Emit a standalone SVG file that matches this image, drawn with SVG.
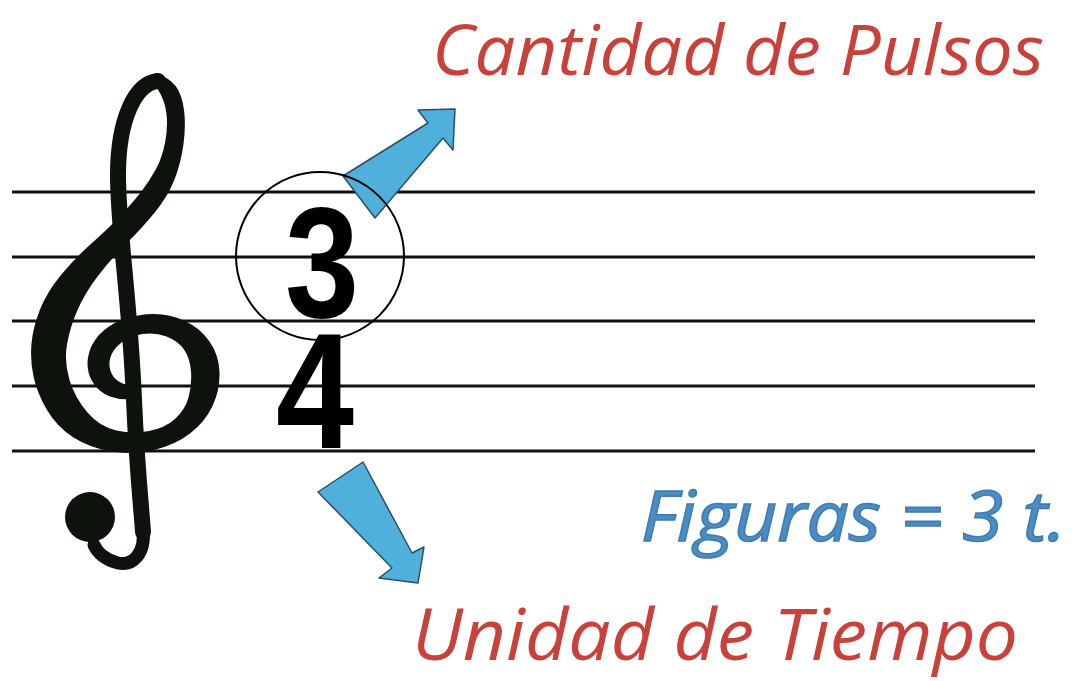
<svg xmlns="http://www.w3.org/2000/svg" width="1074" height="681" viewBox="0 0 1074 681">
<style>
.staff{stroke:#111;stroke-width:3;fill:none}
.clef{fill:none;stroke:#0d120c;stroke-linecap:round;stroke-linejoin:round}
.clef-fill{fill:#0d120c}
.arrow{fill:#4fb0dc;stroke:#2c4f60;stroke-width:1.5;stroke-linejoin:round}
.digit{font-family:"Liberation Sans",Arial,sans-serif;font-weight:bold;fill:#000;text-anchor:middle}
.red{font-family:"Open Sans","DejaVu Sans",sans-serif;font-style:italic;fill:#c8413b}
.blue{font-family:"Open Sans","DejaVu Sans",sans-serif;font-style:italic;fill:#4a8cc4;stroke:#3f7db3;stroke-width:1.6}
</style>
<rect width="1074" height="681" fill="#fff"/>
<g id="staff">
<line class="staff" x1="12" y1="192" x2="1035" y2="192"/>
<line class="staff" x1="12" y1="257" x2="1035" y2="257"/>
<line class="staff" x1="12" y1="321" x2="1035" y2="321"/>
<line class="staff" x1="12" y1="386" x2="1035" y2="386"/>
<line class="staff" x1="12" y1="451" x2="1035" y2="451"/>
</g>
<g id="clef">
<path class="clef" stroke-width="16" d="M158,81 C135,83 118,120 118,175 C118,230 130,300 134,400 C137,470 142,515 143,532"/>
<path class="clef" stroke-width="13" d="M143,528 C146,555 132,566 118,563 C105,560 97,552 94,545"/>
<circle class="clef-fill" cx="90" cy="517" r="25"/>
<path class="clef-fill" d="M157,88 Q165,100 166.5,114 Q168,128 165,143 Q162,158 156,169 Q150,180 142.5,190 Q135,200 122.5,213.5 Q110,227 92.5,242.5 Q75,258 61,275 Q47,292 40,309.5 Q33,327 31.5,343.5 Q30,360 33.5,376.5 Q37,393 47,410 Q57,427 73.5,437.5 Q90,448 111.5,451.5 Q133,455 154,450 Q175,445 190,433.5 Q205,422 212.5,406 Q220,390 219.5,372.5 Q219,355 209.5,341.5 Q200,328 185,321 Q170,314 154,314 Q138,314 123,319.5 Q108,325 99,335 Q90,345 88,357.5 Q86,370 92,381 Q98,392 110,396.5 Q122,401 138,398 Q143,393 138,388 Q118,384 113,376 Q108,368 110,359 Q112,350 121,343 Q130,336 142.5,334 Q155,332 166.5,336.5 Q178,341 184,349.5 Q190,358 191,371.5 Q192,385 188.5,397.5 Q185,410 175,419 Q165,428 149,431 Q133,434 116.5,430.5 Q100,427 87.5,412.5 Q75,398 69.5,380 Q64,362 67,344.5 Q70,327 77.5,310 Q85,293 97.5,276.5 Q110,260 126.5,243.5 Q143,227 155.5,211.5 Q168,196 174.5,179.5 Q181,163 183.5,144 Q186,125 184,110 Q182,95 176,86.5 Q170,78 155,73 Z"/>
</g>
<g id="arrow-top">
<polygon class="arrow" points="343,176 428,123 418,110 455,109 453,150 443,138 375,218"/>
</g>
<g id="arrow-bottom">
<polygon class="arrow" points="318,492 363,462 412,553 424,547 418,583 379,578 392,568"/>
</g>
<g id="time-signature">
<circle cx="320" cy="256" r="84" fill="none" stroke="#000" stroke-width="2"/>
<text class="digit" x="322" y="317" font-size="158" textLength="74" lengthAdjust="spacingAndGlyphs">3</text>
<text class="digit" x="315" y="448" font-size="166" textLength="78" lengthAdjust="spacingAndGlyphs">4</text>
</g>
<g id="labels">
<text class="red" x="432" y="75" font-size="70" textLength="612" lengthAdjust="spacingAndGlyphs">Cantidad de Pulsos</text>
<text class="red" x="412" y="660" font-size="72" textLength="606" lengthAdjust="spacingAndGlyphs">Unidad de Tiempo</text>
<text class="blue" x="641" y="541" font-size="70" textLength="425" lengthAdjust="spacingAndGlyphs">Figuras = 3 t.</text>
</g>
</svg>
